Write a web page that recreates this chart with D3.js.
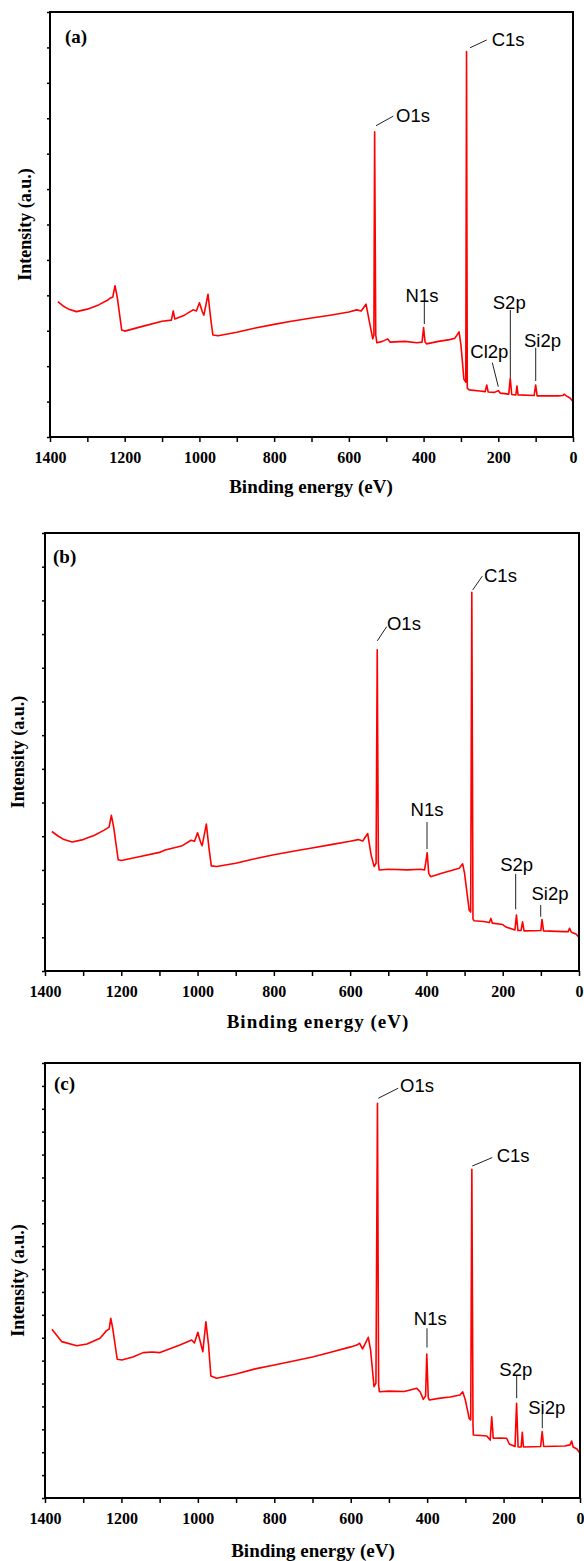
<!DOCTYPE html>
<html>
<head>
<meta charset="utf-8">
<script src="https://cdn.jsdelivr.net/npm/d3@7"></script>
<style>
  body { margin: 0; background: #fff; }
  svg { display: block; }
</style>
</head>
<body>
<div id="chart"></div>
<script>
// spectra: binding energy (eV) and intensity (a.u., one unit per y tick)
const energyA = [1379,1365,1350,1329,1300,1270,1245,1239,1232,1226,1220,1208,1200,1150,1100,1075,1070,1066,1040,1017,1008,1000,992,988,977,970,964,950,900,850,800,758,700,650,600,579,567,554,545,536,533,531,528,525,510,496,490,450,418,404,400,396,392,360,330,316,305,300,292,287,285,283,278,250,235,231,227,210,200,195,172,168,164,153,150,147,104,100,96,40,27,24,18,8,0];
const intensityA = [3.82,3.70,3.61,3.54,3.61,3.73,3.87,3.92,3.95,4.27,3.95,3.02,2.99,3.13,3.27,3.30,3.56,3.33,3.44,3.59,3.56,3.79,3.53,3.44,4.03,3.36,2.88,2.86,2.96,3.08,3.18,3.26,3.36,3.44,3.53,3.59,3.56,3.75,3.25,2.77,2.88,8.62,2.88,2.66,2.70,2.77,2.68,2.70,2.66,2.68,3.09,2.68,2.63,2.70,2.75,2.79,2.97,2.60,1.63,1.55,10.88,1.38,1.33,1.30,1.28,1.47,1.27,1.26,1.31,1.24,1.21,1.66,1.20,1.19,1.44,1.19,1.17,1.47,1.16,1.16,1.17,1.21,1.16,1.10,1.00];

const energyB = [1382,1365,1350,1329,1300,1270,1245,1232,1226,1220,1208,1200,1150,1100,1085,1040,1017,1008,1000,992,988,977,970,964,950,900,850,800,731,700,650,600,579,567,554,545,537,532,529,526,524,500,450,415,405,402,398,394,389,360,330,314,305,300,288,284,281,278,275,250,235,231,227,200,196,190,168,164,160,152,148,144,100,97,93,40,28,25,20,8,0];
const intensityB = [4.14,4.00,3.90,3.83,3.90,4.03,4.18,4.27,4.62,4.27,3.30,3.28,3.40,3.52,3.59,3.72,3.88,3.85,4.10,3.82,3.72,4.36,3.64,3.12,3.10,3.20,3.33,3.45,3.59,3.65,3.75,3.85,3.90,3.86,4.08,3.44,3.10,3.20,9.53,3.20,3.00,3.02,3.00,3.02,3.00,3.20,3.51,2.90,2.80,2.90,3.00,3.05,3.18,2.90,1.81,1.75,11.24,1.55,1.49,1.47,1.44,1.56,1.42,1.38,1.34,1.30,1.22,1.66,1.20,1.20,1.46,1.19,1.20,1.53,1.19,1.17,1.17,1.27,1.15,1.10,1.00];

const energyC = [1382,1356,1317,1290,1256,1239,1232,1228,1223,1211,1199,1170,1143,1120,1099,1080,1047,1016,1009,1000,987,979,972,966,951,900,850,800,759,700,650,600,584,577,569,554,548,539,534,530,527,525,500,460,427,418,410,404,401,397,394,370,340,314,307,300,290,286,283,280,279,260,244,235,231,227,210,192,185,170,166,162,154,151,148,103,99,95,40,26,22,18,8,0];
const intensityC = [7.37,6.83,6.65,6.73,6.98,7.31,7.38,7.85,7.43,6.06,6.03,6.16,6.35,6.38,6.35,6.47,6.68,6.90,6.77,7.24,6.39,7.70,6.68,5.33,5.23,5.42,5.64,5.81,5.95,6.16,6.38,6.60,6.68,6.76,6.51,7.02,6.47,4.86,5.02,17.24,4.94,4.64,4.67,4.65,4.79,4.63,4.31,4.46,6.29,4.37,4.28,4.35,4.41,4.50,4.64,4.28,3.48,3.41,14.36,3.19,2.75,2.73,2.71,2.53,3.55,2.61,2.62,2.61,2.36,2.25,4.14,2.23,2.23,2.87,2.23,2.25,2.90,2.25,2.27,2.32,2.49,2.23,2.14,1.95];

// x ticks
const majorTicks = [1400,1200,1000,800,600,400,200,0];
const minorTicks = [1300,1100,900,700,500,300,100];

// peak labels: leader line [E1,v1,E2,v2] and text point [E,v], in data units
const annotA = [
  {label: "C1s",  line: [275.7,10.99,231.0,11.21], text: [217.6,11.21], anchor: "start"},
  {label: "O1s",  line: [527.3,8.79,481.0,9.06],   text: [473.8,9.09],  anchor: "start"},
  {label: "N1s",  line: [398.0,3.19,398.0,3.81],   text: [404.2,3.99],  anchor: "middle"},
  {label: "S2p",  line: [167.8,1.67,167.8,3.59],   text: [170.7,3.81],  anchor: "middle"},
  {label: "Si2p", line: [99.8,1.58,99.8,2.52],     text: [81.6,2.72],   anchor: "middle"},
  {label: "Cl2p", line: [200.0,1.42,216.0,2.10],   text: [224.0,2.41],  anchor: "middle"}
];
const annotB = [
  {label: "O1s",  line: [528.8,9.80,504.2,10.22],  text: [503.4,10.30], anchor: "start"},
  {label: "C1s",  line: [278.7,11.31,253.5,11.72], text: [249.1,11.75], anchor: "start"},
  {label: "N1s",  line: [398.5,3.62,398.5,4.42],   text: [398.5,4.78],  anchor: "middle"},
  {label: "S2p",  line: [166.0,1.83,166.0,2.88],   text: [163.4,3.15],  anchor: "middle"},
  {label: "Si2p", line: [100.4,1.61,100.4,1.96],   text: [76.0,2.31],   anchor: "middle"}
];
const annotC = [
  {label: "O1s",  line: [527.8,17.46,475.5,17.90], text: [471.0,18.0],  anchor: "start"},
  {label: "C1s",  line: [281.8,14.50,229.5,14.87], text: [218.0,14.98], anchor: "start"},
  {label: "N1s",  line: [400.4,6.57,400.4,7.41],   text: [391.8,7.82],  anchor: "middle"},
  {label: "S2p",  line: [165.7,4.36,165.7,5.33],   text: [168.0,5.62],  anchor: "middle"},
  {label: "Si2p", line: [98.7,3.05,98.7,3.70],     text: [87.1,3.96],   anchor: "middle"}
];

const panels = [
  {tag: "(a)", energy: energyA, intensity: intensityA, annots: annotA, yMax: 12,
   left: 50, right: 573, top: 12, bottom: 437, tagX: 65, tagY: 43, yTitleX: 31, titleX: 311, titleDy: 56, spacing: 0},
  {tag: "(b)", energy: energyB, intensity: intensityB, annots: annotB, yMax: 13,
   left: 45, right: 579, top: 533, bottom: 971, tagX: 53, tagY: 563, yTitleX: 24, titleX: 318, titleDy: 57, spacing: 1},
  {tag: "(c)", energy: energyC, intensity: intensityC, annots: annotC, yMax: 19,
   left: 45, right: 580, top: 1063, bottom: 1498, tagX: 54, tagY: 1090, yTitleX: 24, titleX: 313, titleDy: 59, spacing: 0}
];

const serif = "'Liberation Serif', 'Times New Roman', serif";
const sans = "'Liberation Sans', Arial, sans-serif";

const svg = d3.select("#chart").append("svg")
  .attr("width", 584)
  .attr("height", 1561);

function drawPanel(p) {
  const x = d3.scaleLinear().domain([1400, 0]).range([p.left, p.right]);
  const y = d3.scaleLinear().domain([0, p.yMax]).range([p.bottom, p.top]);
  const g = svg.append("g");

  // spectrum
  const pts = p.energy.map((e, i) => [e, p.intensity[i]]);
  g.append("path")
    .datum(pts)
    .attr("d", d3.line().x(d => x(d[0])).y(d => y(d[1])))
    .attr("fill", "none")
    .attr("stroke", "#ff0000")
    .attr("stroke-width", 1.6)
    .attr("stroke-linejoin", "round");

  // x axis
  const xAxis = d3.axisBottom(x)
    .tickValues(majorTicks.concat(minorTicks))
    .tickSize(5)
    .tickFormat(d => majorTicks.includes(d) ? d : "");
  const xg = g.append("g")
    .attr("transform", `translate(0,${p.bottom})`)
    .call(xAxis);
  xg.select(".domain").remove();
  xg.selectAll(".tick line").attr("stroke", "#000").attr("stroke-width", 1.5);
  xg.selectAll(".tick text")
    .attr("y", 26).attr("dy", null)
    .attr("fill", "#000")
    .style("font-family", serif)
    .style("font-weight", "bold")
    .style("font-size", "16px");

  // y axis, ticks only
  const yAxis = d3.axisLeft(y)
    .tickValues(d3.range(0, p.yMax + 1))
    .tickSize(3)
    .tickFormat("");
  const yg = g.append("g")
    .attr("transform", `translate(${p.left},0)`)
    .call(yAxis);
  yg.select(".domain").remove();
  yg.selectAll(".tick line").attr("stroke", "#000").attr("stroke-width", 1.5);

  // frame
  g.append("rect")
    .attr("x", p.left).attr("y", p.top)
    .attr("width", p.right - p.left).attr("height", p.bottom - p.top)
    .attr("fill", "none")
    .attr("stroke", "#000")
    .attr("stroke-width", 2);

  // axis titles
  g.append("text")
    .attr("x", p.titleX)
    .attr("y", p.bottom + p.titleDy)
    .attr("text-anchor", "middle")
    .style("font-family", serif)
    .style("font-weight", "bold")
    .style("font-size", "19px")
    .style("letter-spacing", p.spacing + "px")
    .text("Binding energy (eV)");

  g.append("text")
    .attr("transform", `translate(${p.yTitleX},${(p.top + p.bottom) / 2}) rotate(-90)`)
    .attr("text-anchor", "middle")
    .style("font-family", serif)
    .style("font-weight", "bold")
    .style("font-size", "18px")
    .text("Intensity (a.u.)");

  g.append("text")
    .attr("x", p.tagX)
    .attr("y", p.tagY)
    .style("font-family", serif)
    .style("font-weight", "bold")
    .style("font-size", "19px")
    .text(p.tag);

  // peak labels
  const ann = g.selectAll(".ann").data(p.annots).join("g").attr("class", "ann");
  ann.append("line")
    .attr("x1", d => x(d.line[0])).attr("y1", d => y(d.line[1]))
    .attr("x2", d => x(d.line[2])).attr("y2", d => y(d.line[3]))
    .attr("stroke", "#222")
    .attr("stroke-width", 1);
  ann.append("text")
    .attr("x", d => x(d.text[0]))
    .attr("y", d => y(d.text[1]))
    .attr("dy", "0.35em")
    .attr("text-anchor", d => d.anchor)
    .style("font-family", sans)
    .style("font-size", "18.5px")
    .attr("fill", "#000")
    .text(d => d.label);
}

panels.forEach(drawPanel);
</script>
</body>
</html>
